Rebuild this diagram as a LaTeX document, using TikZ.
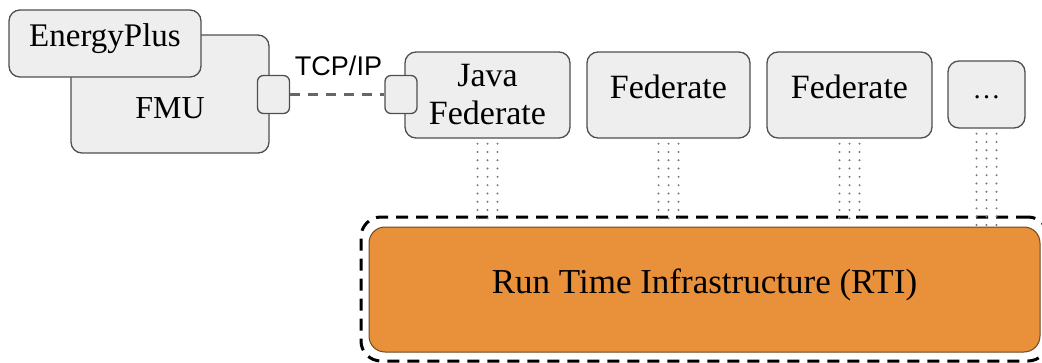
\documentclass[tikz,border=0pt]{standalone}
\usepackage{fontspec}
\setmainfont{Liberation Serif}
\newfontfamily\labelsans{Liberation Sans}
\definecolor{boxfill}{HTML}{EEEEEE}
\definecolor{boxedge}{HTML}{4F4F4F}
\definecolor{rtifill}{RGB}{232,144,58}
\definecolor{rtiedge}{RGB}{110,70,30}
\definecolor{linkgray}{HTML}{666666}
\definecolor{dotgray}{HTML}{777777}
\newcommand{\serifsize}[1]{\fontsize{#1}{38pt}\selectfont}
\begin{document}
\begin{tikzpicture}[x=1pt,y=-1pt,
  box/.style={draw=boxedge, fill=boxfill, line width=1.3pt,
    rounded corners=11pt, inner sep=0pt, text=black},
  fedbox/.style={box, minimum height=86pt, text height=0.68em, text depth=0pt,
    font=\serifsize{34}},
  portbox/.style={box, rounded corners=6pt, minimum width=32pt, minimum height=38pt},
  tcplink/.style={draw=linkgray, line width=3pt, dash pattern=on 10pt off 8pt},
  rtilink/.style={draw=dotgray, line width=2.2pt, line cap=round,
    dash pattern=on 0pt off 8.3pt},
  groupline/.style={draw=black, line width=3pt, dash pattern=on 12pt off 8pt,
    rounded corners=20pt}
]
\useasboundingbox (0,0) rectangle (1042,362);

% EnergyPlus wrapped in an FMU
\node[box, minimum width=198pt, minimum height=118pt] (fmu) at (170,94) {};
\node[font=\serifsize{32}, text height=0.66em, text depth=0pt] (fmulabel) at (170,115) {FMU};
\node[box, minimum width=192pt, minimum height=67pt, font=\serifsize{33},
  text height=0.68em, text depth=0pt] (eplus) at (105,43.5) {EnergyPlus};

% federates
\node[fedbox, minimum width=165pt, align=center, text height=, text depth=]
  (java) at (487.5,95) {Java\\Federate};
\node[fedbox, minimum width=163pt] (fed2) at (668.5,95) {Federate};
\node[fedbox, minimum width=165pt] (fed3) at (849.5,95) {Federate};
\node[box, minimum width=77pt, minimum height=67pt, font=\serifsize{28},
  text height=0.75em, text depth=0pt] (more) at (986.5,94.5) {…};

% socket ports and the TCP/IP link
\node[portbox] (lport) at (273.5,94.5) {};
\node[portbox] (rport) at (401,94.5) {};
\draw[tcplink] (lport.east) -- (rport.west);
\node[font=\labelsans\fontsize{27}{30}\selectfont, inner sep=0pt] (tcp) at (338.5,66) {TCP/IP};

% run time infrastructure
\node[draw=rtiedge, fill=rtifill, line width=1pt, rounded corners=16pt,
  minimum width=671pt, minimum height=125pt, inner sep=0pt,
  font=\serifsize{35}, text height=0.7em, text depth=0pt] (rti) at (704.5,289.5)
  {Run Time Infrastructure (RTI)};
\node[groupline, minimum width=687pt, minimum height=144pt, inner sep=0pt]
  (group) at (704.5,289) {};

% bus connections between federates and the RTI
\foreach \f in {java,fed2,fed3,more}{
  \foreach \dx in {-10,0,10}{
    \draw[rtilink] ([xshift=\dx pt, yshift=-5pt]\f.south) -- ([xshift=\dx pt]\f.south |- rti.north);
  }
}
\end{tikzpicture}
\end{document}
